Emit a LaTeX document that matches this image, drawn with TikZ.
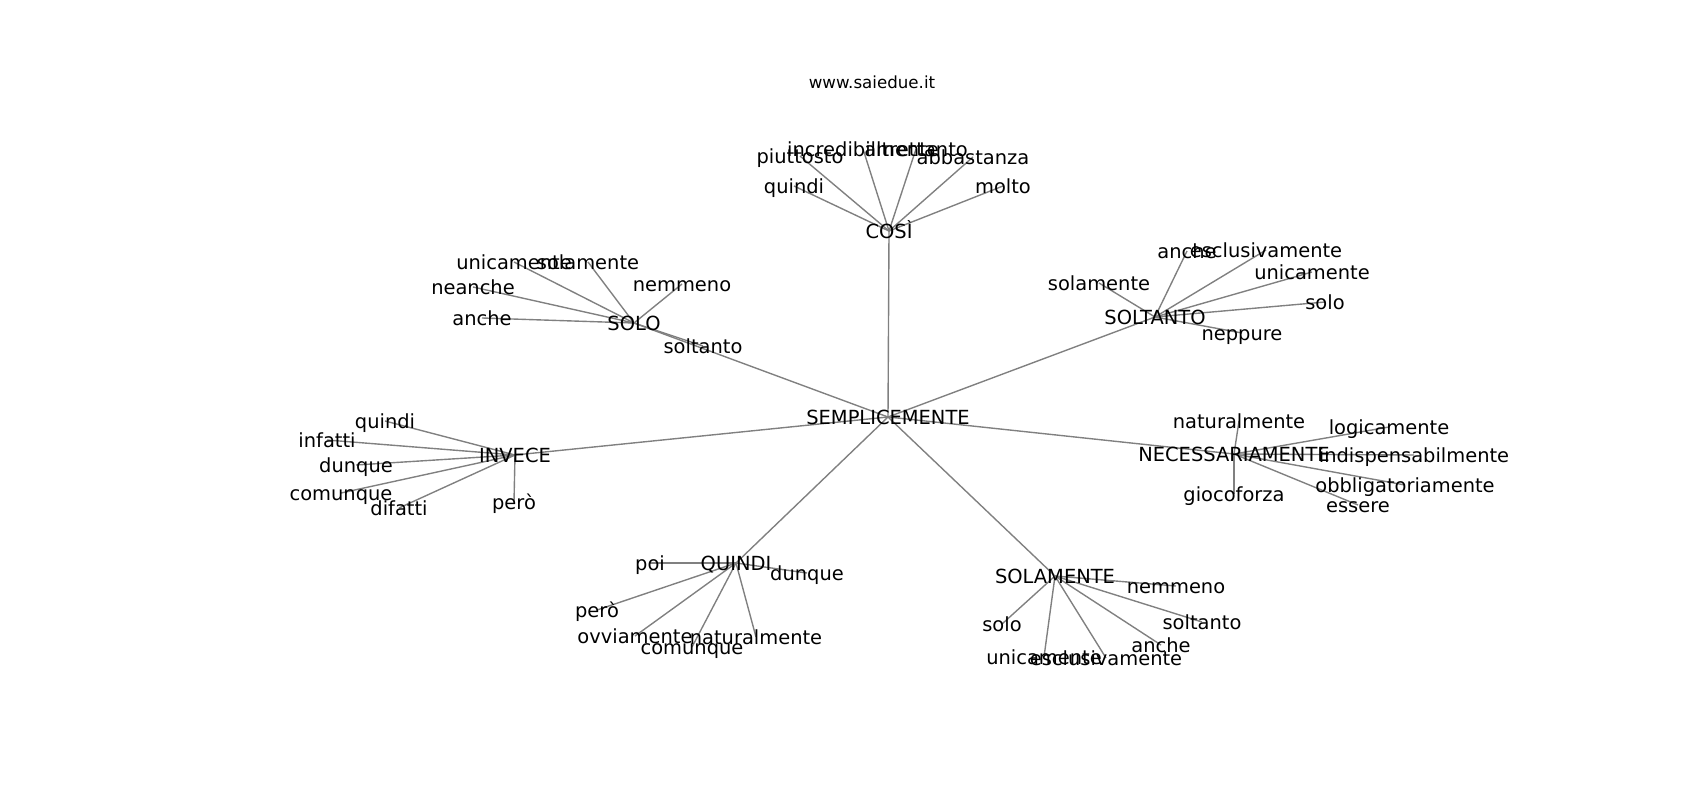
\documentclass[tikz,border=0pt]{standalone}
\usepackage{fontspec}
\setmainfont{DejaVu Sans}
\usetikzlibrary{backgrounds}

\tikzset{
    word/.style={inner sep=0pt, font=\fontsize{14}{16}\selectfont, text height=12pt, text depth=1.5pt},
    link/.style={draw=gray, line width=1pt},
}

\begin{document}
\begin{tikzpicture}[x=0.72pt, y=-0.72pt]
            %\draw[lightgray] (0, 0) grid[step=100] (1700, 800);
            \useasboundingbox (0, 0) rectangle (1700, 800);
            \node[inner sep=0pt, font=\fontsize{12}{14}\selectfont] (site) at (872, 82) {www.saiedue.it};
            \node[word] (semp) at (888, 417) {SEMPLICEMENTE};

            % cosi
            \node[word] (cosi) at (889, 231) {COSÌ};
            \node[word] (cosi-quindi) at (794, 186) {quindi};
            \node[word] (cosi-piuttosto) at (800, 156) {piuttosto};
            \node[word] (cosi-incredibilmente) at (863, 149) {incredibilmente};
            \node[word] (cosi-altrettanto) at (916, 149) {altrettanto};
            \node[word] (cosi-abbastanza) at (973, 157) {abbastanza};
            \node[word] (cosi-molto) at (1003, 186) {molto};

            % solo
            \node[word] (solo) at (634, 323) {SOLO};
            \node[word] (solo-unicamente) at (514, 262) {unicamente};
            \node[word] (solo-solamente) at (588, 262) {solamente};
            \node[word] (solo-neanche) at (473, 287) {neanche};
            \node[word] (solo-nemmeno) at (682, 284) {nemmeno};
            \node[word] (solo-anche) at (482, 318) {anche};
            \node[word] (solo-soltanto) at (703, 346) {soltanto};

            % soltanto
            \node[word] (soltanto) at (1155, 317) {SOLTANTO};
            \node[word] (soltanto-anche) at (1187, 251) {anche};
            \node[word] (soltanto-esclusivamente) at (1266, 250) {esclusivamente};
            \node[word] (soltanto-unicamente) at (1312, 272) {unicamente};
            \node[word] (soltanto-solamente) at (1099, 283) {solamente};
            \node[word] (soltanto-solo) at (1325, 302) {solo};
            \node[word] (soltanto-neppure) at (1242, 333) {neppure};

            % invece
            \node[word] (invece) at (515, 455) {INVECE};
            \node[word] (invece-quindi) at (385, 421) {quindi};
            \node[word] (invece-infatti) at (327, 440) {infatti};
            \node[word] (invece-dunque) at (356, 465) {dunque};
            \node[word] (invece-comunque) at (341, 493) {comunque};
            \node[word] (invece-difatti) at (399, 508) {difatti};
            \node[word] (invece-pero) at (514, 502) {però};

            % necessariamente
            \node[word] (necess) at (1234, 454) {NECESSARIAMENTE};
            \node[word] (necess-naturalmente) at (1239, 421) {naturalmente};
            \node[word] (necess-logicamente) at (1389, 427) {logicamente};
            \node[word] (necess-indispensabilmente) at (1414, 455) {indispensabilmente};
            \node[word] (necess-obbligatoriamente) at (1405, 485) {obbligatoriamente};
            \node[word] (necess-essere) at (1358, 505) {essere};
            \node[word] (necess-giocoforza) at (1234, 494) {giocoforza};

            % quindi
            \node[word] (quindi) at (736, 563) {QUINDI};
            \node[word] (quindi-poi) at (650, 563) {poi};
            \node[word] (quindi-dunque) at (807, 573) {dunque};
            \node[word] (quindi-pero) at (597, 610) {però};
            \node[word] (quindi-ovviamente) at (635, 636) {ovviamente};
            \node[word] (quindi-comunque) at (692, 647) {comunque};
            \node[word] (quindi-naturalmente) at (756, 637) {naturalmente};

            % solamente
            \node[word] (solam) at (1055, 576) {SOLAMENTE};
            \node[word] (solam-nemmeno) at (1176, 586) {nemmeno};
            \node[word] (solam-solo) at (1002, 624) {solo};
            \node[word] (solam-soltanto) at (1202, 622) {soltanto};
            \node[word] (solam-anche) at (1161, 645) {anche};
            \node[word] (solam-unicamente) at (1044, 657) {unicamente};
            \node[word] (solam-esclusivamente) at (1106, 658) {esclusivamente};

            \begin{scope}[on background layer]
            \draw[link] (semp.center) -- (cosi.center);
            \draw[link] (semp.center) -- (solo.center);
            \draw[link] (semp.center) -- (soltanto.center);
            \draw[link] (semp.center) -- (invece.center);
            \draw[link] (semp.center) -- (necess.center);
            \draw[link] (semp.center) -- (quindi.center);
            \draw[link] (semp.center) -- (solam.center);

            \draw[link] (cosi.center) -- (cosi-quindi.center);
            \draw[link] (cosi.center) -- (cosi-piuttosto.center);
            \draw[link] (cosi.center) -- (cosi-incredibilmente.center);
            \draw[link] (cosi.center) -- (cosi-altrettanto.center);
            \draw[link] (cosi.center) -- (cosi-abbastanza.center);
            \draw[link] (cosi.center) -- (cosi-molto.center);

            \draw[link] (solo.center) -- (solo-unicamente.center);
            \draw[link] (solo.center) -- (solo-solamente.center);
            \draw[link] (solo.center) -- (solo-neanche.center);
            \draw[link] (solo.center) -- (solo-nemmeno.center);
            \draw[link] (solo.center) -- (solo-anche.center);
            \draw[link] (solo.center) -- (solo-soltanto.center);

            \draw[link] (soltanto.center) -- (soltanto-anche.center);
            \draw[link] (soltanto.center) -- (soltanto-esclusivamente.center);
            \draw[link] (soltanto.center) -- (soltanto-unicamente.center);
            \draw[link] (soltanto.center) -- (soltanto-solamente.center);
            \draw[link] (soltanto.center) -- (soltanto-solo.center);
            \draw[link] (soltanto.center) -- (soltanto-neppure.center);

            \draw[link] (invece.center) -- (invece-quindi.center);
            \draw[link] (invece.center) -- (invece-infatti.center);
            \draw[link] (invece.center) -- (invece-dunque.center);
            \draw[link] (invece.center) -- (invece-comunque.center);
            \draw[link] (invece.center) -- (invece-difatti.center);
            \draw[link] (invece.center) -- (invece-pero.center);

            \draw[link] (necess.center) -- (necess-naturalmente.center);
            \draw[link] (necess.center) -- (necess-logicamente.center);
            \draw[link] (necess.center) -- (necess-indispensabilmente.center);
            \draw[link] (necess.center) -- (necess-obbligatoriamente.center);
            \draw[link] (necess.center) -- (necess-essere.center);
            \draw[link] (necess.center) -- (necess-giocoforza.center);

            \draw[link] (quindi.center) -- (quindi-poi.center);
            \draw[link] (quindi.center) -- (quindi-dunque.center);
            \draw[link] (quindi.center) -- (quindi-pero.center);
            \draw[link] (quindi.center) -- (quindi-ovviamente.center);
            \draw[link] (quindi.center) -- (quindi-comunque.center);
            \draw[link] (quindi.center) -- (quindi-naturalmente.center);

            \draw[link] (solam.center) -- (solam-nemmeno.center);
            \draw[link] (solam.center) -- (solam-solo.center);
            \draw[link] (solam.center) -- (solam-soltanto.center);
            \draw[link] (solam.center) -- (solam-anche.center);
            \draw[link] (solam.center) -- (solam-unicamente.center);
            \draw[link] (solam.center) -- (solam-esclusivamente.center);
            \end{scope}
        \end{tikzpicture}
\end{document}
